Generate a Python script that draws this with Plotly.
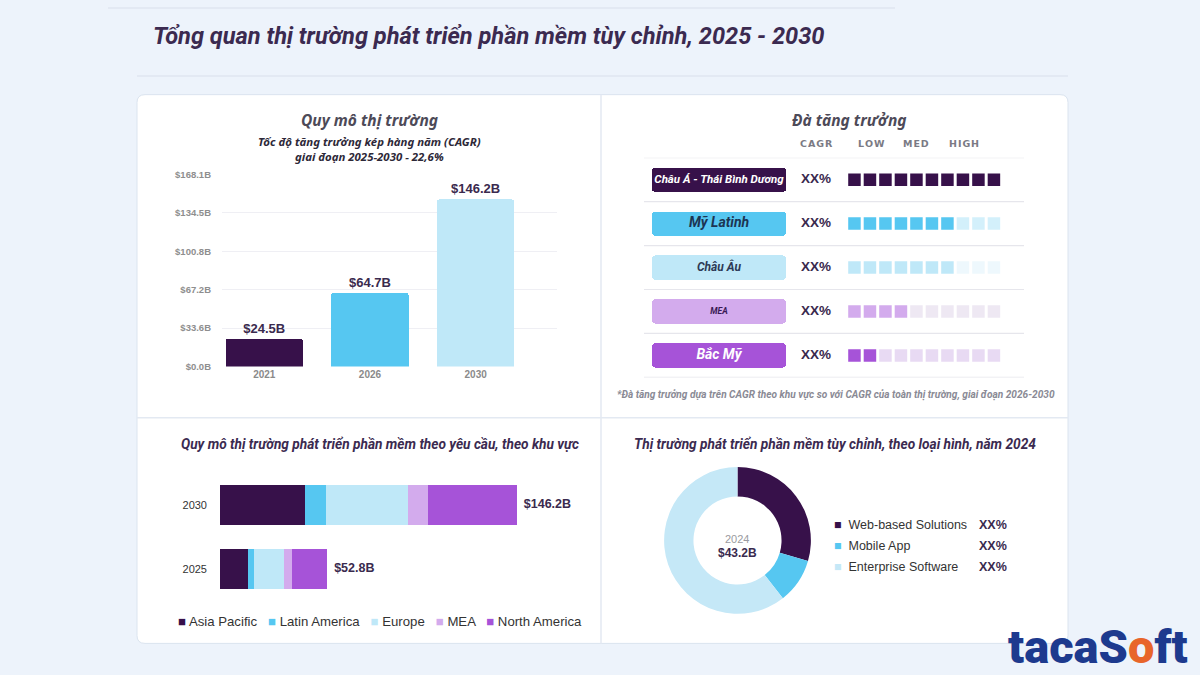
import plotly.graph_objects as go

W, H = 1200, 675
def px(x): return x / W
def py(y): return 1 - y / H

# ---------------- DATA ----------------
title = "Tổng quan thị trường phát triển phần mềm tùy chỉnh, 2025 - 2030"

# Panel 1: market size
p1_title = "Quy mô thị trường"
p1_sub = "Tốc độ tăng trưởng kép hàng năm (CAGR)<br>giai đoạn 2025-2030 - 22,6%"
years = ["2021", "2026", "2030"]
market_size = [24.5, 64.7, 146.2]
year_colors = ["#37114a", "#56c7f1", "#bfe8f8"]
y_ticks = [0, 33.62, 67.24, 100.86, 134.48, 168.1]
y_tick_labels = ["$0.0B", "$33.6B", "$67.2B", "$100.8B", "$134.5B", "$168.1B"]

# Panel 2: growth momentum
p2_title = "Đà tăng trưởng"
momentum_headers = ["CAGR", "LOW", "MED", "HIGH"]
regions_vi = ["Châu Á - Thái Bình Dương", "Mỹ Latinh", "Châu Âu", "MEA", "Bắc Mỹ"]
cagr_labels = ["XX%", "XX%", "XX%", "XX%", "XX%"]
momentum = [10, 7, 7, 4, 2]
total_squares = 10
row_colors = ["#37114a", "#56c7f1", "#bfe8f8", "#d3abed", "#a653d8"]
row_off_colors = ["#e9e4ee", "#d3f0fb", "#eef8fd", "#eee8f3", "#e8daf3"]
row_text_colors = ["#ffffff", "#1c3553", "#2d3a55", "#3a1a55", "#ffffff"]
row_text_sizes = [11.5, 14, 12, 8.5, 14]
p2_note = "*Đà tăng trưởng dựa trên CAGR theo khu vực so với CAGR của toàn thị trường, giai đoạn 2026-2030"

# Panel 3: by region
p3_title = "Quy mô thị trường phát triển phần mềm theo yêu cầu, theo khu vực"
region_years = ["2025", "2030"]
regions_en = ["Asia Pacific", "Latin America", "Europe", "MEA", "North America"]
asia_pacific = [13.7, 41.8]
latin_america = [3.2, 10.3]
europe = [14.7, 40.4]
mea = [3.8, 9.9]
north_america = [17.4, 43.8]
region_colors = ["#37114a", "#56c7f1", "#bfe8f8", "#d3abed", "#a653d8"]

# Panel 4: by type
p4_title = "Thị trường phát triển phần mềm tùy chỉnh, theo loại hình, năm 2024"
types = ["Web-based Solutions", "Mobile App", "Enterprise Software"]
type_share = [29.5, 9.9, 60.6]
type_labels = ["XX%", "XX%", "XX%"]
type_colors = ["#37114a", "#56c7f1", "#c5e8f7"]
donut_year = "2024"
donut_total = "$43.2B"

# ---------------- FIGURE ----------------
DARK = "#3a2a4e"
fig = go.Figure()

# Panel 1 bars
fig.add_trace(go.Bar(
    x=years, y=market_size, marker=dict(color=year_colors, cornerradius=2, line=dict(width=0)),
    width=0.73, text=[f"${v:.1f}B" for v in market_size], textposition="outside",
    textfont=dict(family="Liberation Sans", size=13, color=DARK, weight="bold"),
    cliponaxis=False, xaxis="x", yaxis="y", showlegend=False, hoverinfo="skip"))

# Panel 3 stacked bars
region_series = [asia_pacific, latin_america, europe, mea, north_america]
for name, vals, col in zip(regions_en, region_series, region_colors):
    fig.add_trace(go.Bar(
        y=region_years, x=vals, orientation="h", name=name,
        marker=dict(color=col, line=dict(width=0)), width=0.615,
        xaxis="x2", yaxis="y2", showlegend=False, hoverinfo="skip"))
totals = [sum(v) for v in zip(*region_series)]
fig.add_trace(go.Scatter(
    y=region_years, x=totals, mode="text", text=[f"  ${t:.1f}B" for t in totals],
    textposition="middle right",
    textfont=dict(family="Liberation Sans", size=12.5, color=DARK, weight="bold"),
    xaxis="x2", yaxis="y2", showlegend=False, hoverinfo="skip", cliponaxis=False))

# Panel 2: label boxes
rows = list(range(len(regions_vi)))
box_x0, box_x1 = -13.06, -4.42
fig.add_trace(go.Bar(
    y=rows, x=[box_x1 - box_x0] * len(rows), base=[box_x0] * len(rows), orientation="h",
    width=0.55, marker=dict(color=row_colors, cornerradius=3, line=dict(width=0)),
    xaxis="x3", yaxis="y3", showlegend=False, hoverinfo="skip"))
fig.add_trace(go.Scatter(
    y=rows, x=[(box_x0 + box_x1) / 2] * len(rows), mode="text", text=regions_vi,
    textfont=dict(family="Roboto", size=row_text_sizes, color=row_text_colors,
                  weight="bold", style="italic"),
    xaxis="x3", yaxis="y3", showlegend=False, hoverinfo="skip"))
cagr_x = -2.48
fig.add_trace(go.Scatter(
    y=rows, x=[cagr_x] * len(rows), mode="text", text=cagr_labels,
    textfont=dict(family="Liberation Sans", size=13.5, color=DARK, weight="bold"),
    xaxis="x3", yaxis="y3", showlegend=False, hoverinfo="skip"))
sq_x, sq_y, sq_c = [], [], []
for r in rows:
    for i in range(total_squares):
        sq_x.append(i)
        sq_y.append(r)
        sq_c.append(row_colors[r] if i < momentum[r] else row_off_colors[r])
fig.add_trace(go.Scatter(
    x=sq_x, y=sq_y, mode="markers",
    marker=dict(symbol="square", size=12.5, color=sq_c, line=dict(width=0)),
    xaxis="x3", yaxis="y3", showlegend=False, hoverinfo="skip"))

# Panel 4 donut
fig.add_trace(go.Pie(
    labels=types, values=type_share, hole=0.6, sort=False, direction="clockwise",
    rotation=0, marker=dict(colors=type_colors, line=dict(width=0)),
    textinfo="none", hoverinfo="skip", showlegend=False,
    domain=dict(x=[px(663), px(812)], y=[py(618), py(469)])))

# ---------------- LAYOUT ----------------
shapes = []
shapes.append(dict(type="line", xref="paper", yref="paper", x0=px(108), x1=px(895), y0=py(3), y1=py(3),
                   line=dict(color="#dfe6f0", width=1.5)))
shapes.append(dict(type="line", xref="paper", yref="paper", x0=px(137), x1=px(1068), y0=py(72), y1=py(72),
                   line=dict(color="#dfe6f0", width=1.5)))
x0, x1, y0, y1, r = px(137), px(1068), py(91), py(648), 8
rx, ry = r / W, r / H
path = (f"M {x0+rx},{y0} L {x1-rx},{y0} Q {x1},{y0} {x1},{y0-ry} L {x1},{y1+ry} Q {x1},{y1} {x1-rx},{y1} "
        f"L {x0+rx},{y1} Q {x0},{y1} {x0},{y1+ry} L {x0},{y0-ry} Q {x0},{y0} {x0+rx},{y0} Z")
shapes.append(dict(type="path", xref="paper", yref="paper", path=path, fillcolor="#ffffff",
                   line=dict(color="#dbe4ef", width=1), layer="below"))
shapes.append(dict(type="line", xref="paper", yref="paper", x0=px(601), x1=px(601), y0=py(91), y1=py(648),
                   line=dict(color="#e3e9f2", width=1.5), layer="below"))
shapes.append(dict(type="line", xref="paper", yref="paper", x0=px(137), x1=px(1068), y0=py(419), y1=py(419),
                   line=dict(color="#e3e9f2", width=1.5), layer="below"))
for k in range(len(rows) + 1):
    shapes.append(dict(type="line", xref="paper", yref="y3", x0=px(644), x1=px(1024), y0=k - 0.5, y1=k - 0.5,
                       line=dict(color="#e6e6ec", width=1.2), layer="below"))

ann = []
def A(text, x, y, size, color=DARK, family="Roboto", xanchor="center", xref="paper", yref="paper", **kw):
    ann.append(dict(text=text, x=x, y=y, xref=xref, yref=yref, showarrow=False, xanchor=xanchor,
                    yanchor="middle", font=dict(family=family, size=size, color=color, **kw)))

A(title, px(151), py(31), 23.6, color="#3b2a50", xanchor="left", weight="bold", style="italic")
A(p1_title, px(369), py(117), 15.5, color="#4d4a58", family="Noto Sans", weight="bold", style="italic")
A(p1_sub, px(369), py(146), 11.4, color="#2d2838", family="Noto Sans", weight="bold", style="italic")
A(p2_title, px(849), py(117), 15.5, color="#4d4a58", family="Noto Sans", weight="bold", style="italic")
header_x = [cagr_x, 1.1, 4.0, 7.1]
for h, hx in zip(momentum_headers, header_x):
    A("\u200a".join(h), hx, py(141), 9.5, color="#7a7a84", family="DejaVu Sans", xref="x3", weight="bold")
A(p2_note, px(836), py(396), 10.1, color="#8a8a95", family="Roboto", weight="bold", style="italic")
A(p3_title, px(380), py(446), 13.7, color="#3b2a50", weight="bold", style="italic")
A(p4_title, px(835), py(446), 13.7, color="#3b2a50", weight="bold", style="italic")

leg = "   ".join(f"<span style='color:{c}'>■</span> {n}" for n, c in zip(regions_en, region_colors))
A(leg, px(380), py(626), 13.2, color="#333333", family="Liberation Sans")

A(donut_year, px(737), py(542), 11, color="#9a9aa0", family="Liberation Sans")
A(donut_total, px(737), py(556), 12, color=DARK, family="Liberation Sans", weight="bold")
for k, (n, c, lab) in enumerate(zip(types, type_colors, type_labels)):
    A(f"<span style='color:{c}'>■</span>  {n}", px(832), py(528 + 21 * k), 12.5, color="#333333",
      family="Liberation Sans", xanchor="left")
    A(lab, px(977), py(528 + 21 * k), 12.5, color=DARK, family="Liberation Sans", xanchor="left", weight="bold")

A("tacaS<span style='color:#e8652a'>o</span>ft", px(1098), py(651), 47, color="#1d3a8e", family="Roboto",
  weight=900)

fig.update_layout(
    width=W, height=H, margin=dict(l=0, r=0, t=0, b=0),
    paper_bgcolor="#edf3fb", plot_bgcolor="rgba(0,0,0,0)",
    barmode="stack", bargap=0.2,
    shapes=shapes, annotations=ann,
    xaxis=dict(domain=[px(222), px(557)], range=[-0.4, 2.77], type="category", anchor="y",
               showgrid=False, zeroline=False, showline=False, ticks="",
               tickfont=dict(family="Liberation Sans", size=10, color="#8a8a8a", weight="bold")),
    yaxis=dict(domain=[py(367), py(171.5)], range=[0, 168.5], anchor="x",
               tickvals=y_ticks, ticktext=y_tick_labels, showgrid=True, gridcolor="#efeff4",
               zeroline=False, showline=False, ticks="", ticklabelstandoff=10,
               tickfont=dict(family="Liberation Sans", size=9.5, color="#8e8e8e", weight="bold")),
    xaxis2=dict(domain=[px(220), px(580)], range=[0, 177.3], anchor="y2", visible=False),
    yaxis2=dict(domain=[py(605), py(475)], type="category", categoryorder="array",
                categoryarray=region_years, range=[-0.5, 1.5], anchor="x2",
                showgrid=False, zeroline=False, ticks="", ticklabelstandoff=12,
                tickfont=dict(family="Liberation Sans", size=11, color="#333333")),
    xaxis3=dict(domain=[px(644), px(1024)], range=[-13.58, 10.94], anchor="y3", visible=False),
    yaxis3=dict(domain=[py(378), py(155)], range=[4.5, -0.5], anchor="x3", visible=False),
)

fig.write_html("out.html")
